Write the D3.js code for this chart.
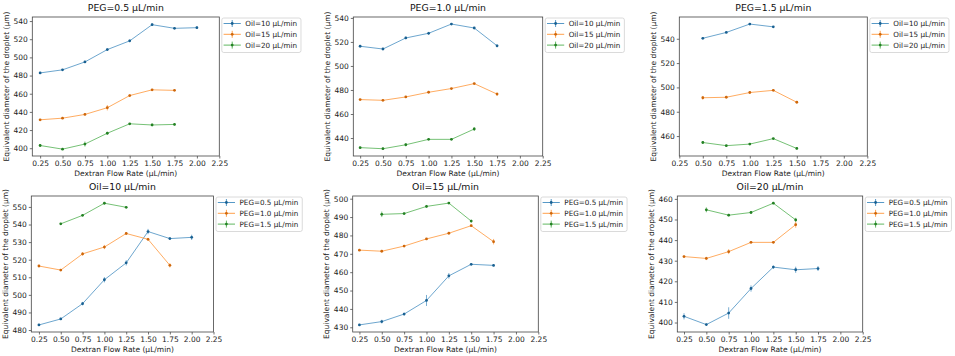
<!DOCTYPE html>
<html>
<head>
<meta charset="utf-8">
<script src="https://cdn.jsdelivr.net/npm/d3@7"></script>
<style>
  html, body { margin: 0; padding: 0; background: #fff; }
  svg { display: block; font-family: "DejaVu Sans", sans-serif; }
</style>
</head>
<body>
<svg id="chart" width="955" height="356"></svg>
<script>
// ---------------- data ----------------
const flowRates = [0.25, 0.5, 0.75, 1.0, 1.25, 1.5, 1.75, 2.0];
const xTicks = [0.25, 0.5, 0.75, 1.0, 1.25, 1.5, 1.75, 2.0, 2.25];

const oil10_peg05 = [482.9, 486.3, 495.0, 508.6, 518.2, 536.0, 532.0, 532.7];
const oil10_peg10 = [516.4, 514.1, 523.3, 527.2, 534.9, 531.6, 516.8, null];
const oil10_peg15 = [null, 540.4, 545.2, 552.1, 549.8, null, null, null];
const oil15_peg05 = [431.3, 433.1, 437.2, 444.6, 458.0, 464.3, 463.7, null];
const oil15_peg10 = [472.0, 471.4, 474.2, 478.1, 481.2, 485.3, 476.6, null];
const oil15_peg15 = [null, 491.5, 491.9, 495.8, 497.6, 487.8, null, null];
const oil20_peg05 = [403.0, 399.0, 404.6, 416.5, 426.9, 425.6, 426.2, null];
const oil20_peg10 = [432.0, 431.1, 434.4, 438.9, 438.9, 447.5, null, null];
const oil20_peg15 = [null, 454.7, 452.1, 453.4, 457.9, 449.8, null, null];

const oil10_peg05_err = [0.5, 0.6, 1.0, 1.5, 1.5, 1.5, 0.8, 1.5];
const oil10_peg10_err = [0.6, 0.5, 1.0, 1.2, 0.6, 0.8, 1.2, null];
const oil10_peg15_err = [null, 0.5, 0.5, 0.6, 0.5, null, null, null];
const oil15_peg05_err = [0.5, 1.0, 0.8, 3.0, 1.5, 0.6, 0.5, null];
const oil15_peg10_err = [0.5, 0.5, 0.5, 0.5, 0.5, 0.5, 1.5, null];
const oil15_peg15_err = [null, 1.5, 0.6, 0.8, 0.5, 0.8, null, null];
const oil20_peg05_err = [1.5, 0.6, 2.8, 1.5, 0.8, 1.5, 1.2, null];
const oil20_peg10_err = [0.5, 0.8, 1.2, 0.5, 0.5, 1.5, null, null];
const oil20_peg15_err = [null, 1.2, 0.6, 0.5, 0.5, 1.0, null, null];

const pegLabels = ["PEG=0.5 µL/min", "PEG=1.0 µL/min", "PEG=1.5 µL/min"];
const oilLabels = ["Oil=10 µL/min", "Oil=15 µL/min", "Oil=20 µL/min"];
const xLabel = "Dextran Flow Rate (µL/min)";
const yLabel = "Equivalent diameter of the droplet (µm)";
const colors = ["#1f77b4", "#ff7f0e", "#2ca02c"];

// grid [oil][peg]
const vals = [
  [oil10_peg05, oil10_peg10, oil10_peg15],
  [oil15_peg05, oil15_peg10, oil15_peg15],
  [oil20_peg05, oil20_peg10, oil20_peg15]
];
const errs = [
  [oil10_peg05_err, oil10_peg10_err, oil10_peg15_err],
  [oil15_peg05_err, oil15_peg10_err, oil15_peg15_err],
  [oil20_peg05_err, oil20_peg10_err, oil20_peg15_err]
];

// ---------------- layout ----------------
const panelsTop = [[32.3, 219.3], [353.3, 542.7], [679.3, 867.3]];
const panelsBot = [[31.3, 213.5], [352.7, 538.3], [677.3, 862.7]];
const rowY = [[17, 156], [196, 332]];

const panels = [];
// top row: per PEG, series = oil
for (let p = 0; p < 3; p++) {
  panels.push({
    title: pegLabels[p], rect: panelsTop[p], ry: rowY[0], step: 20,
    series: [0, 1, 2].map(o => ({ label: oilLabels[o], y: vals[o][p], e: errs[o][p], c: colors[o] }))
  });
}
// bottom row: per Oil, series = peg
for (let o = 0; o < 3; o++) {
  panels.push({
    title: oilLabels[o], rect: panelsBot[o], ry: rowY[1], step: 10,
    series: [0, 1, 2].map(p => ({ label: pegLabels[p], y: vals[o][p], e: errs[o][p], c: colors[p] }))
  });
}

const svg = d3.select("#chart");
const tickFont = 7.5, titleFont = 9.3, legendFont = 7.2;

panels.forEach(P => {
  const [x0, x1] = P.rect, [y0, y1] = P.ry;
  const g = svg.append("g");

  // series points
  const pts = P.series.map(s => flowRates.map((x, i) => ({ x, y: s.y[i], e: s.e[i] || 0 })).filter(d => d.y != null));
  const allX = pts.flat().map(d => d.x);
  let xmin = d3.min(allX), xmax = d3.max(allX);
  const xm = (xmax - xmin) * 0.05;
  xmin = Math.min(xmin - xm, xTicks[0]); xmax = Math.max(xmax + xm, xTicks[xTicks.length - 1]);
  const lo = d3.min(pts.flat(), d => d.y - d.e), hi = d3.max(pts.flat(), d => d.y + d.e);
  const ym = (hi - lo) * 0.05;

  const x = d3.scaleLinear().domain([xmin, xmax]).range([x0, x1]);
  const y = d3.scaleLinear().domain([lo - ym, hi + ym]).range([y1, y0]);
  const yTicks = d3.range(Math.ceil((lo - ym) / P.step) * P.step, hi + ym + 1e-9, P.step);

  // axes
  const xa = g.append("g").attr("transform", `translate(0,${y1})`)
    .call(d3.axisBottom(x).tickValues(xTicks).tickFormat(d3.format(".2f")).tickSize(2.5).tickPadding(2));
  const ya = g.append("g").attr("transform", `translate(${x0},0)`)
    .call(d3.axisLeft(y).tickValues(yTicks).tickFormat(d3.format("d")).tickSize(2.5).tickPadding(2));
  [xa, ya].forEach(a => {
    a.select(".domain").remove();
    a.selectAll("line").attr("stroke", "#333").attr("stroke-width", 0.7);
    a.selectAll("text").attr("font-size", tickFont).attr("fill", "#222").attr("font-family", "DejaVu Sans");
  });

  // frame
  g.append("rect").attr("x", x0).attr("y", y0).attr("width", x1 - x0).attr("height", y1 - y0)
    .attr("fill", "none").attr("stroke", "#444").attr("stroke-width", 0.8);

  // series
  P.series.forEach((s, si) => {
    const d = pts[si];
    const sg = g.append("g");
    sg.selectAll("line.err").data(d.filter(v => v.e > 0)).join("line")
      .attr("x1", v => x(v.x)).attr("x2", v => x(v.x))
      .attr("y1", v => y(v.y - v.e)).attr("y2", v => y(v.y + v.e))
      .attr("stroke", s.c).attr("stroke-opacity", 0.6).attr("stroke-width", 1);
    sg.append("path").datum(d)
      .attr("d", d3.line().x(v => x(v.x)).y(v => y(v.y)))
      .attr("fill", "none").attr("stroke", s.c).attr("stroke-opacity", 0.65).attr("stroke-width", 1);
    sg.selectAll("circle").data(d).join("circle")
      .attr("cx", v => x(v.x)).attr("cy", v => y(v.y)).attr("r", 1.4)
      .attr("fill", d3.color(s.c).darker(0.6));
  });

  // title
  g.append("text").attr("x", (x0 + x1) / 2).attr("y", y0 - 6).attr("text-anchor", "middle")
    .attr("font-size", titleFont).attr("fill", "#111").text(P.title);
  // x label
  g.append("text").attr("x", (x0 + x1) / 2).attr("y", y1 + 20).attr("text-anchor", "middle")
    .attr("font-size", tickFont).attr("fill", "#222").text(xLabel);
  // y label
  g.append("text").attr("transform", `translate(${x0 - 23.5},${(y0 + y1) / 2}) rotate(-90)`)
    .attr("text-anchor", "middle").attr("font-size", tickFont).attr("fill", "#222").text(yLabel);

  // legend
  const lx = x1 + 2.5, ly = y0 + 1;
  const lg = g.append("g").attr("transform", `translate(${lx},${ly})`);
  const box = lg.append("rect").attr("rx", 2).attr("fill", "#fff").attr("stroke", "#d0d0d0").attr("stroke-width", 0.8);
  let maxW = 0;
  P.series.forEach((s, i) => {
    const cy = 5.5 + i * 10.8;
    lg.append("line").attr("x1", 1.8).attr("x2", 19).attr("y1", cy).attr("y2", cy)
      .attr("stroke", s.c).attr("stroke-opacity", 0.75).attr("stroke-width", 1);
    lg.append("line").attr("x1", 10.4).attr("x2", 10.4).attr("y1", cy - 3.5).attr("y2", cy + 3.5)
      .attr("stroke", s.c).attr("stroke-opacity", 0.75).attr("stroke-width", 1);
    lg.append("circle").attr("cx", 10.4).attr("cy", cy).attr("r", 1.4).attr("fill", d3.color(s.c).darker(0.6));
    const t = lg.append("text").attr("x", 23.5).attr("y", cy + 2.6).attr("font-size", legendFont)
      .attr("fill", "#222").text(s.label);
    maxW = Math.max(maxW, t.node().getComputedTextLength());
  });
  box.attr("x", 0).attr("y", 0).attr("width", 23.5 + maxW + 4).attr("height", 34.5);
});
</script>
</body>
</html>
